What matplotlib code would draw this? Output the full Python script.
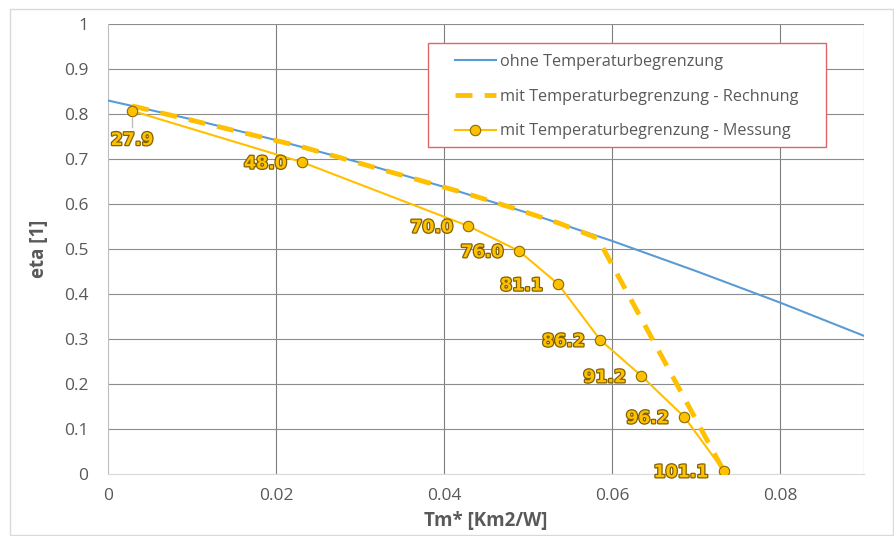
import matplotlib
matplotlib.use("Agg")
import matplotlib.pyplot as plt
import matplotlib.patheffects as pe
from matplotlib.patches import Rectangle

# Data
x_ohne = [0.0, 0.01, 0.02, 0.03, 0.04, 0.05, 0.06, 0.07, 0.08, 0.09]
eta_ohne = [0.830, 0.788, 0.742, 0.692, 0.638, 0.580, 0.518, 0.451, 0.381, 0.307]

x_rech = [0.00286, 0.0231, 0.0429, 0.0489, 0.0536, 0.0583, 0.0733]
eta_rech = [0.818, 0.727, 0.622, 0.587, 0.558, 0.524, 0.007]

x_mess = [0.00286, 0.0231, 0.0429, 0.0489, 0.0536, 0.0586, 0.0635, 0.0686, 0.0733]
eta_mess = [0.807, 0.693, 0.551, 0.496, 0.422, 0.298, 0.218, 0.127, 0.007]
labels_mess = ["27.9", "48.0", "70.0", "76.0", "81.1", "86.2", "91.2", "96.2", "101.1"]

xticks = [0, 0.02, 0.04, 0.06, 0.08]
xtick_labels = ["0", "0.02", "0.04", "0.06", "0.08"]
yticks = [0, 0.1, 0.2, 0.3, 0.4, 0.5, 0.6, 0.7, 0.8, 0.9, 1.0]
ytick_labels = ["0", "0.1", "0.2", "0.3", "0.4", "0.5", "0.6", "0.7", "0.8", "0.9", "1"]

plt.rcParams['font.family'] = ['Open Sans', 'DejaVu Sans']
txt = '#595959'
W, H = 895, 536
L, R, T, B = 108, 864, 24, 474

fig = plt.figure(figsize=(W/100, H/100), dpi=100)
ax = fig.add_axes([L/W, 1-B/H, (R-L)/W, (B-T)/H])

fig.patches.append(Rectangle((10/W, 1/H), 883/W, 526/H, transform=fig.transFigure,
                             fill=False, edgecolor='#D9D9D9', linewidth=1))

ax.plot(x_ohne, eta_ohne, color='#5B9BD5', lw=1.5, label='ohne Temperaturbegrenzung', zorder=3)
ax.plot(x_rech, eta_rech, color='#FFC000', lw=3.5, ls=(0, (3.5, 2.5)),
        label='mit Temperaturbegrenzung - Rechnung', zorder=4)
ax.plot(x_mess, eta_mess, color='#FFC000', lw=1.5, marker='o', markersize=7.5,
        markerfacecolor='#FFC000', markeredgecolor='#8C6A00', markeredgewidth=0.8,
        label='mit Temperaturbegrenzung - Messung', zorder=5)

effects = [pe.withStroke(linewidth=1.8, foreground='#7F6000')]
for i, (xv, yv, lab) in enumerate(zip(x_mess, eta_mess, labels_mess)):
    if i == 0:
        ax.plot([xv, xv], [yv - 0.015, yv - 0.035], color='#BFBFBF', lw=1, zorder=2)
        ax.annotate(lab, (xv, yv), xytext=(0, -21), textcoords='offset points',
                    ha='center', va='center', fontsize=12.5, fontweight='bold',
                    family='DejaVu Sans', color='#FFC000', path_effects=effects, zorder=6)
    else:
        ax.annotate(lab, (xv, yv), xytext=(-11, -1), textcoords='offset points',
                    ha='right', va='center', fontsize=12.5, fontweight='bold',
                    family='DejaVu Sans', color='#FFC000', path_effects=effects, zorder=6)

ax.set_xlim(0, 0.09)
ax.set_ylim(0, 1)
ax.set_xticks(xticks)
ax.set_xticklabels(xtick_labels)
ax.set_yticks(yticks)
ax.set_yticklabels(ytick_labels)
ax.tick_params(axis='both', length=0, labelsize=12.5, colors=txt, pad=10)
ax.tick_params(axis='y', pad=14)

for v in [0.02, 0.04, 0.06, 0.08, 0.09]:
    ax.axvline(v, color='#7F7F7F', lw=0.8, zorder=1)
for v in yticks[1:]:
    ax.axhline(v, color='#8C8C8C', lw=0.8, zorder=1)

for s in ['top', 'right']:
    ax.spines[s].set_visible(False)
ax.spines['left'].set_color('#BFBFBF')
ax.spines['bottom'].set_color('#D9D9D9')

ax.set_xlabel('Tm* [Km2/W]', fontsize=13.5, fontweight='bold', color=txt, labelpad=5)
ax.set_ylabel('eta [1]', fontsize=13.5, fontweight='bold', color=txt, labelpad=11)

# legend frame (drawn manually) and entries
ax.add_patch(Rectangle(((428-L)/(R-L), 1-(147-T)/(B-T)), (826-428)/(R-L), (147-43)/(B-T),
                       transform=ax.transAxes, facecolor='white', edgecolor='#E06666',
                       linewidth=1.0, zorder=9, clip_on=False))
leg = ax.legend(loc='upper left', bbox_to_anchor=((455-L)/(R-L), 1-(54-T)/(B-T)),
                frameon=False, fontsize=11.7, labelcolor=txt,
                handlelength=2.5, handletextpad=0.3, borderpad=0, labelspacing=1.15,
                borderaxespad=0)
leg.set_zorder(10)

fig.savefig('out.png', dpi=100, facecolor='white')
